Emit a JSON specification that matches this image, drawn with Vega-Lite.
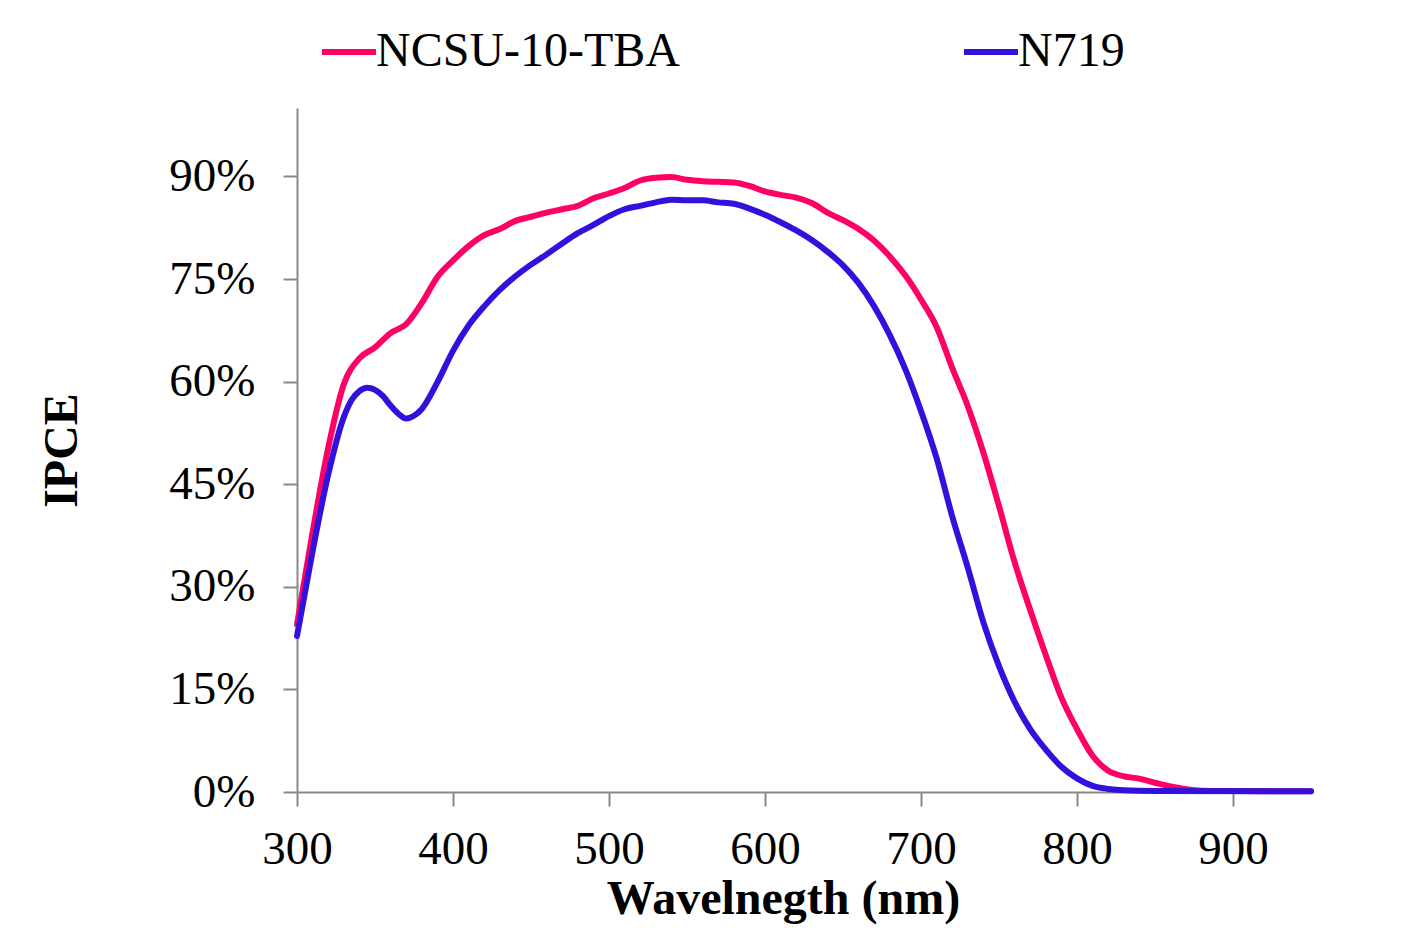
{
  "$schema": "https://vega.github.io/schema/vega-lite/v6.json",
  "autosize": {"type": "none"},
  "padding": {"left": 297, "top": 108, "right": 91, "bottom": 140},
  "width": 1014,
  "height": 684,
  "background": "white",
  "config": {
    "view": {"stroke": null},
    "font": "Liberation Serif",
    "axis": {
      "grid": false,
      "domainColor": "#898989",
      "domainWidth": 2,
      "tickColor": "#898989",
      "tickWidth": 2,
      "tickSize": 14,
      "labelFont": "Liberation Serif",
      "labelFontSize": 47,
      "labelColor": "black",
      "labelFlush": false,
      "titleFont": "Liberation Serif",
      "titleFontSize": 48,
      "titleFontWeight": "bold",
      "titleColor": "black"
    },
    "legend": {
      "labelFont": "Liberation Serif",
      "labelFontSize": 48,
      "labelColor": "black"
    }
  },
  "data": {
    "values": [
      {"series": "NCSU-10-TBA", "wl": 300, "ipce": 24.5},
      {"series": "NCSU-10-TBA", "wl": 310, "ipce": 38.0},
      {"series": "NCSU-10-TBA", "wl": 320, "ipce": 50.3},
      {"series": "NCSU-10-TBA", "wl": 330, "ipce": 59.6},
      {"series": "NCSU-10-TBA", "wl": 340, "ipce": 63.4},
      {"series": "NCSU-10-TBA", "wl": 350, "ipce": 65.0},
      {"series": "NCSU-10-TBA", "wl": 360, "ipce": 67.1},
      {"series": "NCSU-10-TBA", "wl": 370, "ipce": 68.4},
      {"series": "NCSU-10-TBA", "wl": 380, "ipce": 71.5},
      {"series": "NCSU-10-TBA", "wl": 390, "ipce": 75.3},
      {"series": "NCSU-10-TBA", "wl": 400, "ipce": 77.7},
      {"series": "NCSU-10-TBA", "wl": 410, "ipce": 79.8},
      {"series": "NCSU-10-TBA", "wl": 420, "ipce": 81.4},
      {"series": "NCSU-10-TBA", "wl": 430, "ipce": 82.3},
      {"series": "NCSU-10-TBA", "wl": 440, "ipce": 83.5},
      {"series": "NCSU-10-TBA", "wl": 450, "ipce": 84.1},
      {"series": "NCSU-10-TBA", "wl": 460, "ipce": 84.7},
      {"series": "NCSU-10-TBA", "wl": 470, "ipce": 85.2},
      {"series": "NCSU-10-TBA", "wl": 480, "ipce": 85.7},
      {"series": "NCSU-10-TBA", "wl": 490, "ipce": 86.8},
      {"series": "NCSU-10-TBA", "wl": 500, "ipce": 87.5},
      {"series": "NCSU-10-TBA", "wl": 510, "ipce": 88.3},
      {"series": "NCSU-10-TBA", "wl": 520, "ipce": 89.4},
      {"series": "NCSU-10-TBA", "wl": 530, "ipce": 89.8},
      {"series": "NCSU-10-TBA", "wl": 540, "ipce": 89.9},
      {"series": "NCSU-10-TBA", "wl": 550, "ipce": 89.5},
      {"series": "NCSU-10-TBA", "wl": 560, "ipce": 89.3},
      {"series": "NCSU-10-TBA", "wl": 570, "ipce": 89.2},
      {"series": "NCSU-10-TBA", "wl": 580, "ipce": 89.1},
      {"series": "NCSU-10-TBA", "wl": 590, "ipce": 88.6},
      {"series": "NCSU-10-TBA", "wl": 600, "ipce": 87.8},
      {"series": "NCSU-10-TBA", "wl": 610, "ipce": 87.3},
      {"series": "NCSU-10-TBA", "wl": 620, "ipce": 86.9},
      {"series": "NCSU-10-TBA", "wl": 630, "ipce": 86.1},
      {"series": "NCSU-10-TBA", "wl": 640, "ipce": 84.7},
      {"series": "NCSU-10-TBA", "wl": 650, "ipce": 83.6},
      {"series": "NCSU-10-TBA", "wl": 660, "ipce": 82.3},
      {"series": "NCSU-10-TBA", "wl": 670, "ipce": 80.6},
      {"series": "NCSU-10-TBA", "wl": 680, "ipce": 78.3},
      {"series": "NCSU-10-TBA", "wl": 690, "ipce": 75.5},
      {"series": "NCSU-10-TBA", "wl": 700, "ipce": 72.0},
      {"series": "NCSU-10-TBA", "wl": 710, "ipce": 68.0},
      {"series": "NCSU-10-TBA", "wl": 720, "ipce": 62.0},
      {"series": "NCSU-10-TBA", "wl": 730, "ipce": 56.4},
      {"series": "NCSU-10-TBA", "wl": 740, "ipce": 49.6},
      {"series": "NCSU-10-TBA", "wl": 750, "ipce": 41.8},
      {"series": "NCSU-10-TBA", "wl": 760, "ipce": 33.6},
      {"series": "NCSU-10-TBA", "wl": 770, "ipce": 26.6},
      {"series": "NCSU-10-TBA", "wl": 780, "ipce": 20.0},
      {"series": "NCSU-10-TBA", "wl": 790, "ipce": 13.8},
      {"series": "NCSU-10-TBA", "wl": 800, "ipce": 9.2},
      {"series": "NCSU-10-TBA", "wl": 810, "ipce": 5.3},
      {"series": "NCSU-10-TBA", "wl": 820, "ipce": 3.1},
      {"series": "NCSU-10-TBA", "wl": 830, "ipce": 2.3},
      {"series": "NCSU-10-TBA", "wl": 840, "ipce": 1.95},
      {"series": "NCSU-10-TBA", "wl": 850, "ipce": 1.35},
      {"series": "NCSU-10-TBA", "wl": 860, "ipce": 0.8},
      {"series": "NCSU-10-TBA", "wl": 870, "ipce": 0.4},
      {"series": "NCSU-10-TBA", "wl": 880, "ipce": 0.2},
      {"series": "NCSU-10-TBA", "wl": 900, "ipce": 0.15},
      {"series": "NCSU-10-TBA", "wl": 950, "ipce": 0.1},
      {"series": "N719", "wl": 300, "ipce": 22.8},
      {"series": "N719", "wl": 310, "ipce": 35.2},
      {"series": "N719", "wl": 320, "ipce": 46.4},
      {"series": "N719", "wl": 330, "ipce": 54.8},
      {"series": "N719", "wl": 335, "ipce": 57.3},
      {"series": "N719", "wl": 340, "ipce": 58.6},
      {"series": "N719", "wl": 345, "ipce": 59.1},
      {"series": "N719", "wl": 350, "ipce": 58.8},
      {"series": "N719", "wl": 355, "ipce": 57.9},
      {"series": "N719", "wl": 360, "ipce": 56.5},
      {"series": "N719", "wl": 365, "ipce": 55.3},
      {"series": "N719", "wl": 370, "ipce": 54.6},
      {"series": "N719", "wl": 375, "ipce": 55.0},
      {"series": "N719", "wl": 380, "ipce": 56.0},
      {"series": "N719", "wl": 390, "ipce": 59.9},
      {"series": "N719", "wl": 400, "ipce": 64.5},
      {"series": "N719", "wl": 410, "ipce": 68.2},
      {"series": "N719", "wl": 420, "ipce": 71.0},
      {"series": "N719", "wl": 430, "ipce": 73.4},
      {"series": "N719", "wl": 440, "ipce": 75.4},
      {"series": "N719", "wl": 450, "ipce": 77.1},
      {"series": "N719", "wl": 460, "ipce": 78.6},
      {"series": "N719", "wl": 470, "ipce": 80.2},
      {"series": "N719", "wl": 480, "ipce": 81.7},
      {"series": "N719", "wl": 490, "ipce": 82.9},
      {"series": "N719", "wl": 500, "ipce": 84.2},
      {"series": "N719", "wl": 510, "ipce": 85.2},
      {"series": "N719", "wl": 520, "ipce": 85.7},
      {"series": "N719", "wl": 530, "ipce": 86.2},
      {"series": "N719", "wl": 540, "ipce": 86.6},
      {"series": "N719", "wl": 550, "ipce": 86.5},
      {"series": "N719", "wl": 560, "ipce": 86.5},
      {"series": "N719", "wl": 570, "ipce": 86.2},
      {"series": "N719", "wl": 580, "ipce": 86.0},
      {"series": "N719", "wl": 590, "ipce": 85.3},
      {"series": "N719", "wl": 600, "ipce": 84.4},
      {"series": "N719", "wl": 610, "ipce": 83.3},
      {"series": "N719", "wl": 620, "ipce": 82.1},
      {"series": "N719", "wl": 630, "ipce": 80.7},
      {"series": "N719", "wl": 640, "ipce": 79.0},
      {"series": "N719", "wl": 650, "ipce": 77.0},
      {"series": "N719", "wl": 660, "ipce": 74.4},
      {"series": "N719", "wl": 670, "ipce": 71.0},
      {"series": "N719", "wl": 680, "ipce": 66.8},
      {"series": "N719", "wl": 690, "ipce": 61.8},
      {"series": "N719", "wl": 700, "ipce": 55.7},
      {"series": "N719", "wl": 710, "ipce": 48.8},
      {"series": "N719", "wl": 720, "ipce": 40.3},
      {"series": "N719", "wl": 730, "ipce": 32.8},
      {"series": "N719", "wl": 740, "ipce": 24.8},
      {"series": "N719", "wl": 750, "ipce": 18.4},
      {"series": "N719", "wl": 760, "ipce": 13.2},
      {"series": "N719", "wl": 770, "ipce": 9.2},
      {"series": "N719", "wl": 780, "ipce": 6.2},
      {"series": "N719", "wl": 790, "ipce": 3.7},
      {"series": "N719", "wl": 800, "ipce": 2.0},
      {"series": "N719", "wl": 810, "ipce": 0.9},
      {"series": "N719", "wl": 820, "ipce": 0.45},
      {"series": "N719", "wl": 830, "ipce": 0.25},
      {"series": "N719", "wl": 850, "ipce": 0.15},
      {"series": "N719", "wl": 950, "ipce": 0.1}
    ]
  },
  "mark": {"type": "line", "strokeWidth": 6, "interpolate": "monotone", "strokeCap": "round", "strokeJoin": "round"},
  "encoding": {
    "x": {
      "field": "wl",
      "type": "quantitative",
      "scale": {"domain": [300, 950], "nice": false, "zero": false},
      "axis": {
        "values": [300, 400, 500, 600, 700, 800, 900],
        "labelPadding": 20,
        "title": "Wavelnegth (nm)",
        "titleX": 486,
        "titleY": 121,
        "titleBaseline": "alphabetic",
        "titleAnchor": null,
        "titleAlign": "center"
      }
    },
    "y": {
      "field": "ipce",
      "type": "quantitative",
      "scale": {"domain": [0, 100], "nice": false},
      "axis": {
        "values": [0, 15, 30, 45, 60, 75, 90],
        "labelExpr": "datum.value + '%'",
        "labelPadding": 28,
        "title": "IPCE",
        "titleX": -235,
        "titleY": 342,
        "titleAngle": 270,
        "titleBaseline": "middle",
        "titleAlign": "center"
      }
    },
    "color": {
      "field": "series",
      "type": "nominal",
      "sort": null,
      "scale": {"domain": ["NCSU-10-TBA", "N719"], "range": ["#FF0066", "#3311DD"]},
      "legend": {
        "title": null,
        "orient": "none",
        "direction": "horizontal",
        "legendX": 22,
        "legendY": -86,
        "symbolType": "stroke",
        "symbolSize": 2916,
        "symbolStrokeWidth": 6,
        "labelOffset": -3,
        "columnPadding": 271,
        "labelLimit": 600
      }
    }
  }
}
